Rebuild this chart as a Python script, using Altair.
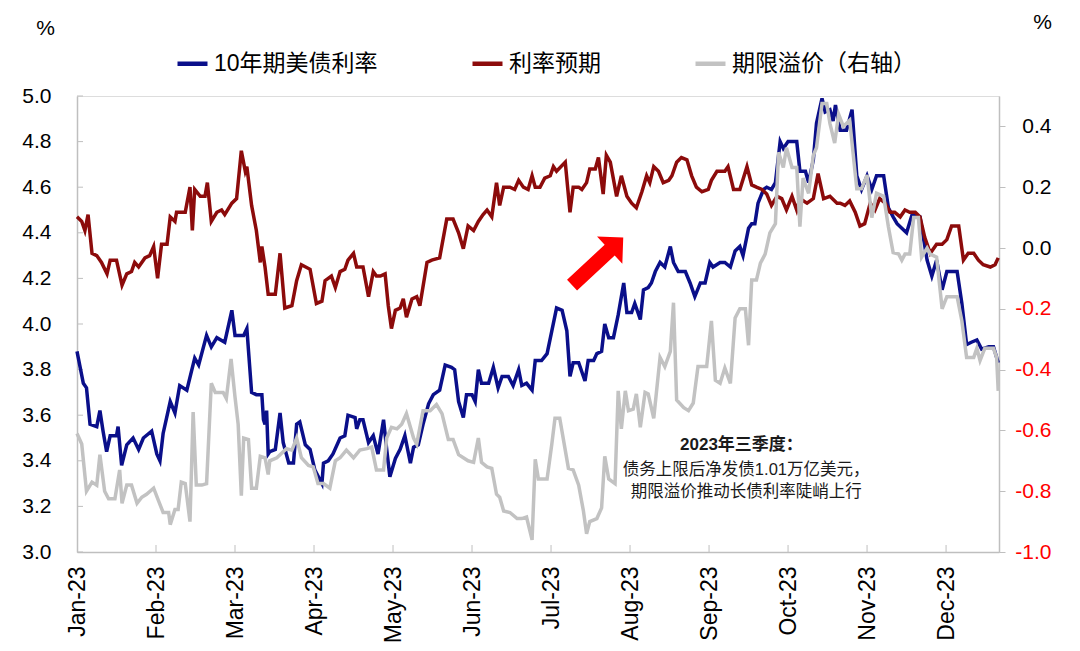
import altair as alt
import pandas as pd

# month position (0 = start of Jan-23, 1 = start of Feb-23, ...)
months = ["Jan-23", "Feb-23", "Mar-23", "Apr-23", "May-23", "Jun-23",
          "Jul-23", "Aug-23", "Sep-23", "Oct-23", "Nov-23", "Dec-23"]
series_names = ["10年期美债利率", "利率预期", "期限溢价（右轴）"]
colors = ["#0a0f8a", "#8c0b0b", "#c2c2c2"]

blue_t = [0.00, 0.08, 0.12, 0.165, 0.25, 0.29, 0.33, 0.375, 0.42, 0.50, 0.52, 0.565, 0.63, 0.71, 0.78, 0.84,
          0.945, 1.01, 1.05, 1.09, 1.18, 1.24, 1.30, 1.39, 1.49, 1.54, 1.64, 1.70, 1.77, 1.87, 1.96, 2.00,
          2.11, 2.15, 2.21, 2.27, 2.34, 2.36, 2.38, 2.40, 2.42, 2.44, 2.51, 2.57, 2.61, 2.68, 2.74, 2.78,
          2.82, 2.89, 2.95, 3.01, 3.10, 3.12, 3.18, 3.24, 3.33, 3.39, 3.43, 3.52, 3.54, 3.58, 3.62, 3.69,
          3.75, 3.81, 3.88, 3.92, 3.96, 4.03, 4.09, 4.15, 4.22, 4.26, 4.32, 4.38, 4.45, 4.51, 4.59, 4.66,
          4.74, 4.78, 4.83, 4.89, 4.93, 5.00, 5.04, 5.08, 5.12, 5.21, 5.27, 5.33, 5.38, 5.46, 5.52, 5.59,
          5.63, 5.69, 5.76, 5.80, 5.88, 5.95, 6.01, 6.07, 6.14, 6.20, 6.24, 6.28, 6.35, 6.43, 6.47, 6.54,
          6.58, 6.64, 6.68, 6.73, 6.79, 6.85, 6.92, 6.96, 7.02, 7.06, 7.13, 7.17, 7.23, 7.27, 7.32, 7.38,
          7.44, 7.51, 7.55, 7.61, 7.70, 7.76, 7.82, 7.89, 7.95, 8.01, 8.05, 8.14, 8.20, 8.27, 8.33, 8.39,
          8.43, 8.50, 8.54, 8.58, 8.62, 8.69, 8.73, 8.79, 8.84, 8.90, 8.94, 9.00, 9.11, 9.15, 9.22, 9.26,
          9.32, 9.36, 9.43, 9.47, 9.53, 9.57, 9.60, 9.66, 9.74, 9.81, 9.87, 9.93, 10.00, 10.06, 10.12, 10.21,
          10.27, 10.33, 10.38, 10.44, 10.50, 10.57, 10.67, 10.76, 10.82, 10.88, 10.95, 11.01, 11.07, 11.14,
          11.20, 11.26, 11.32, 11.39, 11.45, 11.54, 11.60, 11.66]
blue_v = [3.88, 3.74, 3.72, 3.56, 3.55, 3.62, 3.53, 3.44, 3.51, 3.51, 3.55, 3.38, 3.47, 3.50, 3.45, 3.50,
          3.53, 3.43, 3.40, 3.52, 3.66, 3.61, 3.73, 3.71, 3.85, 3.82, 3.95, 3.90, 3.94, 3.92, 4.06, 3.95,
          3.95, 3.98, 3.70, 3.69, 3.69, 3.58, 3.56, 3.62, 3.43, 3.44, 3.45, 3.61, 3.48, 3.39, 3.39, 3.56,
          3.57, 3.47, 3.45, 3.36, 3.30, 3.39, 3.40, 3.43, 3.50, 3.51, 3.60, 3.59, 3.54, 3.58, 3.58, 3.48,
          3.51, 3.43, 3.58, 3.45, 3.33, 3.41, 3.45, 3.51, 3.39, 3.46, 3.47, 3.56, 3.65, 3.69, 3.71, 3.82,
          3.81, 3.80, 3.66, 3.59, 3.69, 3.69, 3.66, 3.80, 3.74, 3.74, 3.81, 3.72, 3.77, 3.77, 3.73, 3.80,
          3.73, 3.74, 3.71, 3.84, 3.84, 3.87, 3.97, 4.07, 4.06, 3.97, 3.77, 3.83, 3.83, 3.75, 3.84, 3.84,
          3.87, 3.88, 4.00, 3.94, 3.94, 4.04, 4.18, 4.05, 4.05, 4.09, 4.02, 4.15, 4.16, 4.18, 4.23, 4.27,
          4.25, 4.34, 4.27, 4.23, 4.23, 4.18, 4.12, 4.18, 4.18, 4.27, 4.25, 4.27, 4.27, 4.25, 4.32, 4.34,
          4.30, 4.42, 4.44, 4.44, 4.53, 4.59, 4.60, 4.59, 4.62, 4.80, 4.77, 4.80, 4.80, 4.67, 4.67, 4.62,
          4.72, 4.88, 4.99, 4.93, 4.94, 4.89, 4.96, 4.85, 4.85, 4.94, 4.65, 4.59, 4.65, 4.59, 4.65, 4.65,
          4.51, 4.47, 4.44, 4.42, 4.40, 4.48, 4.47, 4.28, 4.21, 4.28, 4.15, 4.23, 4.23, 4.23,
          4.09, 3.91, 3.92, 3.93, 3.89, 3.90, 3.90, 3.83]

red_t = [0.00, 0.06, 0.10, 0.14, 0.19, 0.25, 0.31, 0.38, 0.42, 0.50, 0.57, 0.63, 0.69, 0.73, 0.78, 0.86,
         0.92, 0.97, 1.02, 1.07, 1.14, 1.18, 1.24, 1.26, 1.37, 1.43, 1.46, 1.49, 1.56, 1.62, 1.65, 1.70,
         1.77, 1.83, 1.87, 1.96, 2.02, 2.08, 2.13, 2.15, 2.21, 2.27, 2.32, 2.34, 2.38, 2.42, 2.44, 2.51,
         2.57, 2.63, 2.72, 2.78, 2.84, 2.95, 3.03, 3.10, 3.14, 3.22, 3.27, 3.33, 3.39, 3.43, 3.50, 3.54,
         3.62, 3.69, 3.75, 3.79, 3.84, 3.90, 3.94, 3.98, 4.03, 4.09, 4.13, 4.17, 4.24, 4.30, 4.34, 4.43,
         4.49, 4.59, 4.68, 4.76, 4.83, 4.89, 4.95, 5.02, 5.08, 5.14, 5.19, 5.25, 5.31, 5.35, 5.40, 5.48,
         5.54, 5.59, 5.65, 5.71, 5.76, 5.80, 5.86, 5.92, 5.99, 6.03, 6.07, 6.18, 6.24, 6.28, 6.35, 6.39,
         6.45, 6.49, 6.56, 6.60, 6.66, 6.70, 6.75, 6.83, 6.89, 6.96, 7.02, 7.08, 7.15, 7.21, 7.25, 7.30,
         7.36, 7.42, 7.49, 7.53, 7.59, 7.65, 7.72, 7.78, 7.84, 7.91, 7.99, 8.03, 8.10, 8.16, 8.20, 8.24,
         8.31, 8.39, 8.48, 8.54, 8.60, 8.67, 8.73, 8.79, 8.86, 8.92, 8.98, 9.05, 9.11, 9.15, 9.24, 9.32,
         9.38, 9.45, 9.53, 9.62, 9.66, 9.72, 9.78, 9.85, 9.91, 9.97, 10.04, 10.10, 10.16, 10.23, 10.29,
         10.35, 10.42, 10.48, 10.54, 10.61, 10.67, 10.73, 10.80, 10.88, 10.95, 11.01, 11.07, 11.16, 11.22,
         11.28, 11.35, 11.41, 11.47, 11.56, 11.62, 11.66]
red_v = [4.47, 4.45, 4.41, 4.48, 4.31, 4.30, 4.27, 4.22, 4.28, 4.28, 4.17, 4.22, 4.23, 4.27, 4.25, 4.29,
         4.30, 4.34, 4.20, 4.35, 4.35, 4.47, 4.45, 4.49, 4.49, 4.60, 4.41, 4.59, 4.56, 4.56, 4.62, 4.45,
         4.49, 4.50, 4.48, 4.53, 4.55, 4.76, 4.67, 4.69, 4.52, 4.41, 4.27, 4.34, 4.25, 4.13, 4.13, 4.13,
         4.31, 4.07, 4.08, 4.19, 4.26, 4.24, 4.09, 4.10, 4.19, 4.21, 4.16, 4.23, 4.24, 4.28, 4.31, 4.25,
         4.25, 4.12, 4.23, 4.21, 4.21, 4.22, 4.08, 3.98, 4.06, 4.07, 4.11, 4.03, 4.11, 4.12, 4.08, 4.27,
         4.28, 4.29, 4.46, 4.46, 4.40, 4.33, 4.43, 4.41, 4.45, 4.48, 4.50, 4.47, 4.62, 4.52, 4.60, 4.60,
         4.59, 4.63, 4.60, 4.59, 4.65, 4.60, 4.60, 4.64, 4.65, 4.69, 4.67, 4.71, 4.49, 4.60, 4.60, 4.59,
         4.62, 4.68, 4.68, 4.73, 4.57, 4.74, 4.71, 4.56, 4.65, 4.56, 4.53, 4.51, 4.58, 4.65, 4.62, 4.69,
         4.67, 4.62, 4.63, 4.65, 4.71, 4.73, 4.72, 4.65, 4.60, 4.58, 4.59, 4.63, 4.67, 4.67, 4.67, 4.69,
         4.59, 4.59, 4.69, 4.61, 4.60, 4.59, 4.57, 4.52, 4.56, 4.55, 4.50, 4.56, 4.50, 4.55, 4.53, 4.55,
         4.66, 4.55, 4.56, 4.53, 4.53, 4.52, 4.54, 4.49, 4.43, 4.44, 4.53, 4.50, 4.55, 4.53, 4.49,
         4.49, 4.47, 4.50, 4.49, 4.49, 4.47, 4.38, 4.31, 4.35, 4.35, 4.37, 4.43, 4.43, 4.28,
         4.31, 4.31, 4.28, 4.26, 4.25, 4.26, 4.29]

gray_t = [0.00, 0.06, 0.12, 0.19, 0.25, 0.29, 0.35, 0.40, 0.48, 0.54, 0.57, 0.63, 0.69, 0.76, 0.82, 0.88,
          0.97, 1.03, 1.09, 1.16, 1.18, 1.24, 1.28, 1.32, 1.37, 1.43, 1.47, 1.51, 1.58, 1.64, 1.70, 1.75,
          1.85, 1.89, 1.95, 2.00, 2.04, 2.08, 2.11, 2.17, 2.21, 2.27, 2.32, 2.38, 2.42, 2.44, 2.53, 2.59,
          2.65, 2.72, 2.78, 2.84, 2.93, 2.99, 3.05, 3.12, 3.20, 3.27, 3.33, 3.41, 3.50, 3.58, 3.67, 3.73,
          3.79, 3.88, 3.92, 3.98, 4.05, 4.11, 4.17, 4.26, 4.30, 4.38, 4.47, 4.55, 4.62, 4.70, 4.76, 4.83,
          4.89, 4.95, 5.02, 5.08, 5.12, 5.19, 5.25, 5.31, 5.35, 5.40, 5.48, 5.57, 5.63, 5.69, 5.76, 5.80,
          5.84, 5.95, 6.01, 6.05, 6.11, 6.18, 6.22, 6.28, 6.35, 6.41, 6.45, 6.49, 6.58, 6.64, 6.68, 6.73,
          6.81, 6.85, 6.89, 6.94, 6.98, 7.04, 7.08, 7.13, 7.19, 7.23, 7.30, 7.38, 7.44, 7.51, 7.55, 7.59,
          7.68, 7.74, 7.80, 7.86, 7.97, 8.03, 8.08, 8.14, 8.20, 8.27, 8.33, 8.39, 8.46, 8.50, 8.54, 8.60,
          8.65, 8.71, 8.77, 8.84, 8.88, 8.94, 8.98, 9.05, 9.11, 9.15, 9.19, 9.26, 9.32, 9.36, 9.43, 9.49,
          9.53, 9.59, 9.64, 9.70, 9.78, 9.87, 9.93, 10.00, 10.06, 10.12, 10.21, 10.27, 10.33, 10.40, 10.44,
          10.48, 10.54, 10.59, 10.65, 10.69, 10.76, 10.80, 10.88, 10.95, 11.01, 11.07, 11.14, 11.20, 11.26,
          11.35, 11.39, 11.43, 11.49, 11.60, 11.64, 11.66]
gray_v = [-0.61, -0.645, -0.80, -0.77, -0.78, -0.68, -0.80, -0.825, -0.825, -0.73, -0.84, -0.78, -0.78,
          -0.84, -0.82, -0.81, -0.79, -0.83, -0.87, -0.87, -0.91, -0.86, -0.86, -0.77, -0.775, -0.90, -0.54,
          -0.78, -0.78, -0.775, -0.445, -0.475, -0.475, -0.495, -0.365, -0.49, -0.58, -0.815, -0.625, -0.63,
          -0.79, -0.79, -0.685, -0.69, -0.745, -0.70, -0.69, -0.675, -0.66, -0.665, -0.625, -0.69, -0.715,
          -0.72, -0.775, -0.775, -0.79, -0.70, -0.69, -0.665, -0.69, -0.665, -0.66, -0.655, -0.73, -0.73,
          -0.625, -0.59, -0.595, -0.58, -0.545, -0.625, -0.645, -0.535, -0.535, -0.515, -0.545, -0.63, -0.63,
          -0.68, -0.69, -0.70, -0.705, -0.625, -0.705, -0.72, -0.725, -0.81, -0.82, -0.865, -0.87, -0.89,
          -0.89, -0.885, -0.96, -0.695, -0.76, -0.76, -0.645, -0.56, -0.56, -0.665, -0.725, -0.73, -0.78,
          -0.865, -0.94, -0.90, -0.89, -0.855, -0.685, -0.76, -0.775, -0.47, -0.595, -0.47, -0.535, -0.53,
          -0.48, -0.59, -0.475, -0.48, -0.56, -0.36, -0.39, -0.34, -0.18, -0.50, -0.525, -0.535, -0.51,
          -0.39, -0.39, -0.24, -0.435, -0.445, -0.395, -0.445, -0.23, -0.20, -0.20, -0.32, -0.105, -0.105,
          -0.05, -0.02, 0.05, 0.08, 0.315, 0.265, 0.33, 0.265, 0.265, 0.07, 0.23, 0.18, 0.305, 0.33, 0.475,
          0.475, 0.41, 0.345, 0.44, 0.40, 0.42, 0.195, 0.195, 0.24, 0.10, 0.18, 0.17, 0.07, -0.015, -0.02,
          -0.04, -0.02, -0.02, 0.10, 0.10, -0.03, 0.0, -0.02, -0.03, -0.20, -0.16, -0.16, -0.16, -0.24,
          -0.36, -0.36, -0.33, -0.37, -0.33, -0.33, -0.36, -0.47]

left_ticks = [3.0, 3.2, 3.4, 3.6, 3.8, 4.0, 4.2, 4.4, 4.6, 4.8, 5.0]
right_ticks = [-1.0, -0.8, -0.6, -0.4, -0.2, 0.0, 0.2, 0.4]

note_title = "2023年三季度："
note_body = ["债务上限后净发债1.01万亿美元，", "期限溢价推动长债利率陡峭上行"]

FONT = "Liberation Sans, Noto Sans CJK SC, sans-serif"
W, H = 922, 456
AXIS_GRAY = "#bfbfbf"

left_df = pd.concat([
    pd.DataFrame({"t": blue_t, "v": blue_v, "s": series_names[0]}),
    pd.DataFrame({"t": red_t, "v": red_v, "s": series_names[1]}),
])
right_df = pd.DataFrame({"t": gray_t, "v": gray_v, "s": series_names[2]})

label_js = "[" + ",".join("'%s'" % m for m in months) + "][datum.value]"
x_enc = alt.X("t:Q",
              scale=alt.Scale(domain=[0, 11.67], nice=False, zero=False),
              axis=alt.Axis(values=list(range(12)), labelExpr=label_js, labelAngle=270,
                            labelAlign="right", labelBaseline="middle", labelFontSize=23,
                            labelFont=FONT, labelPadding=14, tickSize=0, grid=False,
                            domainColor=AXIS_GRAY, domainWidth=1.5, title=None))

y_left = alt.Y("v:Q",
               scale=alt.Scale(domain=[3, 5], nice=False, zero=False),
               axis=alt.Axis(values=left_ticks, format=".1f", grid=False, tickSize=0,
                             domainColor=AXIS_GRAY, domainWidth=1.5,
                             labelFontSize=21, labelFont=FONT, labelPadding=26,
                             title="%", titleAngle=0, titleX=-32, titleY=-68,
                             titleAlign="center", titleBaseline="middle",
                             titleFontSize=21, titleFontWeight="normal", titleFont=FONT))

y_right = alt.Y("v:Q",
                scale=alt.Scale(domain=[-1, 0.5], nice=False, zero=False),
                axis=alt.Axis(orient="right", values=right_ticks, grid=False, tickSize=6,
                              labelExpr="replace(format(datum.value, '.1f'), '\u2212', '-')",
                              labelColor={"condition": {"test": "datum.value < 0", "value": "#ff0000"},
                                          "value": "#000000"},
                              tickColor=AXIS_GRAY, domainColor=AXIS_GRAY, domainWidth=1.5,
                              labelFontSize=21, labelFont=FONT, labelAlign="right", labelPadding=46,
                              title="%", titleAngle=0, titleX=43, titleY=-74,
                              titleAlign="center", titleBaseline="middle",
                              titleFontSize=21, titleFontWeight="normal", titleFont=FONT))

# pad the first legend label so the three entries sit where the original puts them
legend_expr = "datum.label == '%s' ? datum.label + '%s' : datum.label" % (series_names[0], "\u00a0" * 4)
color = alt.Color("s:N",
                  scale=alt.Scale(domain=series_names, range=colors),
                  legend=alt.Legend(orient="none", legendX=98, legendY=-50, direction="horizontal",
                                    title=None, symbolType="stroke", symbolStrokeWidth=4.5,
                                    symbolSize=900, labelFontSize=23, labelFont=FONT, labelLimit=400,
                                    labelExpr=legend_expr, columnPadding=85, labelOffset=4))

lines = alt.Chart(left_df).mark_line(strokeWidth=3.5).encode(x=x_enc, y=y_left, color=color, order="t:Q")

# inward ticks: on the left axis pointing right, on the x axis pointing up
x_ticks = alt.Chart(pd.DataFrame({"t": list(range(1, 12))})).mark_rule(
    color=AXIS_GRAY, strokeWidth=1).encode(x=x_enc, y=alt.value(H - 7), y2=alt.value(H))
y_ticks = alt.Chart(pd.DataFrame({"v": left_ticks})).mark_rule(
    color=AXIS_GRAY, strokeWidth=1).encode(y=y_left, x=alt.value(0), x2=alt.value(6))

arrow_path = "M-1,-0.21L0.47,-0.21L0.47,-0.53L1,0L0.47,0.53L0.47,0.21L-1,0.21Z"
arrow = alt.Chart(pd.DataFrame({"t": [6.59], "v": [4.275]})).mark_point(
    shape=arrow_path, filled=True, color="#ff0000", opacity=1, size=4900, angle=317,
    strokeWidth=0).encode(x=x_enc, y=y_left)

note_head = alt.Chart(pd.DataFrame({"t": [8.41], "v": [3.47], "txt": [note_title]})).mark_text(
    font=FONT, fontSize=17, fontWeight="bold", color="#1a1a1a", align="center",
    baseline="middle").encode(x=x_enc, y=y_left, text="txt:N")
note_lines = alt.Chart(pd.DataFrame({"t": [8.47, 8.47], "v": [3.36, 3.265], "txt": note_body})).mark_text(
    font=FONT, fontSize=16.5, color="#1a1a1a", align="center",
    baseline="middle").encode(x=x_enc, y=y_left, text="txt:N")

left_layer = alt.layer(x_ticks, y_ticks, lines, arrow, note_head, note_lines)

gray_line = alt.Chart(right_df).mark_line(strokeWidth=3.5).encode(
    x=x_enc, y=y_right, color=color, order="t:Q")

chart = alt.layer(left_layer, gray_line).resolve_scale(y="independent").properties(
    width=W, height=H, autosize="none",
    padding={"left": 69, "top": 88, "right": 65, "bottom": 90},
).configure_view(stroke=None).configure(background="white")

chart.save("out.html", embed_options={"renderer": "svg", "actions": False})
